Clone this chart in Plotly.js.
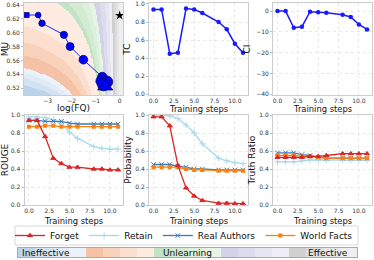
<!DOCTYPE html>
<html><head><meta charset="utf-8">
<script src="https://cdn.plot.ly/plotly-3.0.1.min.js"></script>
<style>html,body{margin:0;padding:0;background:#fff}#chart{width:374px;height:260px}</style>
</head><body><div id="chart"></div>
<script>
// ---------- data ----------
const steps = [0, 1, 2, 3, 4, 5, 6, 8, 9, 10, 11];
const logFQ = [-3.87, -3.39, -3.23, -2.32, -2.06, -1.51, -0.72, -0.76, -0.53, -0.66, -0.60];
const MU = [0.6256, 0.6256, 0.6137, 0.597, 0.580, 0.561, 0.536, 0.530, 0.529, 0.525, 0.522];
const TC = [0.94, 0.94, 0.45, 0.46, 0.95, 0.94, 0.90, 0.80, 0.72, 0.56, 0.46];
const CI = [0, 0, -8, -7.5, -0.3, -0.5, -0.8, -1.7, -2.8, -6.4, -8.8];
const idealX = [0];
const idealY = [0.625];

const seriesNames = ['Forget', 'Retain', 'Real Authors', 'World Facts'];
const rougeForget = [0.94, 0.94, 0.76, 0.52, 0.46, 0.42, 0.42, 0.40, 0.40, 0.39, 0.39];
const rougeRetain = [0.98, 0.98, 0.97, 0.95, 0.90, 0.81, 0.74, 0.65, 0.63, 0.62, 0.62];
const rougeReal   = [0.94, 0.94, 0.93, 0.93, 0.93, 0.91, 0.90, 0.90, 0.90, 0.90, 0.90];
const rougeWorld  = [0.87, 0.87, 0.88, 0.88, 0.87, 0.87, 0.87, 0.87, 0.87, 0.87, 0.87];
const probForget = [0.98, 0.98, 0.88, 0.44, 0.19, 0.10, 0.05, 0.02, 0.02, 0.015, 0.015];
const probRetain = [1.00, 1.00, 0.99, 0.96, 0.89, 0.80, 0.68, 0.52, 0.49, 0.47, 0.46];
const probReal   = [0.45, 0.45, 0.45, 0.43, 0.42, 0.40, 0.40, 0.39, 0.39, 0.39, 0.39];
const probWorld  = [0.42, 0.42, 0.42, 0.42, 0.40, 0.39, 0.39, 0.38, 0.38, 0.38, 0.38];
const trForget = [0.53, 0.53, 0.53, 0.53, 0.54, 0.54, 0.55, 0.57, 0.57, 0.57, 0.57];
const trRetain = [0.48, 0.48, 0.48, 0.49, 0.50, 0.50, 0.50, 0.50, 0.50, 0.50, 0.50];
const trReal   = [0.58, 0.58, 0.58, 0.56, 0.55, 0.53, 0.52, 0.52, 0.52, 0.52, 0.52];
const trWorld  = [0.55, 0.55, 0.55, 0.54, 0.54, 0.53, 0.52, 0.52, 0.52, 0.52, 0.52];

const bandLabels = ['Ineffective', 'Unlearning', 'Effective'];
const bandLevels = [0,1,2,3,4,5,6,7,8,9,10,11,12,13,14,15,16,17,18,19];
// score thresholds separating the 20 background levels
const levelThresholds = [0.30,0.36,0.41,0.46, 0.58,0.70,0.85,1.20, 1.28,1.45,1.62,1.80, 2.10,2.60,3.40,4.57, 7,15,40];

// ---------- styles ----------
const levelColors = [
  '#bdd3ea','#d3e3f2','#e0ebf7','#ebf2fa',
  '#f6c2a5','#f9d2bc','#fcdfce','#feece2',
  '#c3e4c4','#d2ebd1','#dcf0db','#e6f5e5',
  '#d3d2e8','#dddcee','#e6e5f2','#efeef6',
  '#d0d0d0','#dddddd','#e6e6e6','#efefef'
];
const seriesColors = ['#d62728', '#a6d8ec', '#3a7cb9', '#ff7f0e'];
const seriesSymbols = ['triangle-up', 'cross-thin', 'x-thin', 'square'];

const W = 374, H = 260;
const dx = (a, b) => [a / W, b / W];
const dy = (t, b) => [1 - b / H, 1 - t / H];

const colorscale = [];
levelColors.forEach((c, i) => { colorscale.push([i / 20, c]); colorscale.push([(i + 1) / 20, c]); });

// background score landscape for the (log FQ, MU) plane
const gx = [], gy = [];
for (let i = 0; i < 170; i++) gx.push(-4.0 + i * 0.0245);
for (let j = 0; j < 100; j++) gy.push(0.509 + j * 0.00136);
const gz = gy.map(y => gx.map(x => {
  const s = Math.pow(Math.max(-x, 0.02), -1.15) + 6.51 * (y - 0.51);
  let lvl = 0;
  while (lvl < levelThresholds.length && s >= levelThresholds[lvl]) lvl++;
  return lvl;
}));

const font = 'DejaVu Sans, sans-serif';
const baseAxis = {
  showline: true, linecolor: '#cccccc', linewidth: 1, mirror: true,
  ticks: 'outside', ticklen: 2, tickcolor: '#aaaaaa', tickwidth: 0.8,
  tickfont: {size: 6, color: '#333', family: font},
  showgrid: true, gridcolor: '#e2e2e2', griddash: 'dot', gridwidth: 0.8,
  zeroline: false
};
const ax = (o) => Object.assign({}, baseAxis, o);
const ttl = (t, standoff) => ({text: t, font: {size: 9, color: '#111', family: font}, standoff: standoff});

const traces = [];
traces.push({type: 'heatmap', x: gx, y: gy, z: gz, colorscale: colorscale, zmin: -0.5, zmax: 19.5,
  showscale: false, hoverinfo: 'skip', xaxis: 'x', yaxis: 'y'});
traces.push({type: 'scatter', mode: 'lines+markers', x: logFQ, y: MU, xaxis: 'x', yaxis: 'y', showlegend: false,
  opacity: 1, line: {color: '#1a2aff', width: 1},
  marker: {color: '#0000ff', opacity: 1, size: steps.map(s => 5 + 0.75 * s),
    symbol: steps.map((s, i) => i === 0 ? 'square' : (i === steps.length - 1 ? 'triangle-up' : 'circle')),
    line: {color: '#000055', width: 0.7}}});
traces.push({type: 'scatter', mode: 'markers', x: idealX, y: idealY, xaxis: 'x', yaxis: 'y', showlegend: false,
  marker: {symbol: 'star', color: '#000', size: 7}});
traces.push({type: 'scatter', mode: 'lines+markers', x: steps, y: TC, xaxis: 'x2', yaxis: 'y2', showlegend: false,
  line: {color: '#1a1aff', width: 1.5}, marker: {color: '#1a1aff', size: 4.5}});
traces.push({type: 'scatter', mode: 'lines+markers', x: steps, y: CI, xaxis: 'x3', yaxis: 'y3', showlegend: false,
  line: {color: '#1a1aff', width: 1.5}, marker: {color: '#1a1aff', size: 4.5}});

const groups = [
  ['x4', 'y4', [rougeForget, rougeRetain, rougeReal, rougeWorld]],
  ['x5', 'y5', [probForget, probRetain, probReal, probWorld]],
  ['x6', 'y6', [trForget, trRetain, trReal, trWorld]]
];
const drawOrder = [1, 2, 3, 0];
groups.forEach((g, gi) => {
  drawOrder.forEach(k => {
    traces.push({type: 'scatter', mode: 'lines+markers', x: steps, y: g[2][k], xaxis: g[0], yaxis: g[1],
      name: seriesNames[k], legendgroup: seriesNames[k], showlegend: gi === 0, legendrank: k + 1,
      line: {color: seriesColors[k], width: 1.3},
      marker: {color: seriesColors[k], symbol: seriesSymbols[k], size: k === 3 ? 4 : 4.5,
        line: {color: seriesColors[k], width: k === 3 ? 0 : 1}}});
  });
});
traces.push({type: 'heatmap', x: bandLevels, y: [0], z: [bandLevels], colorscale: colorscale, zmin: -0.5, zmax: 19.5,
  showscale: false, hoverinfo: 'skip', xaxis: 'x7', yaxis: 'y7'});

const stepAxis = (dom, anchor) => ax({domain: dom, anchor: anchor, range: [-0.55, 11.55],
  tick0: 0, dtick: 2.5, tickformat: '.1f', ticks: ''});

const txt = (t, xp, yp, anchor, size) => ({text: t, xref: 'paper', yref: 'paper', x: xp / W, y: 1 - yp / H,
  xanchor: anchor, yanchor: 'middle', showarrow: false, font: {size: size, family: font, color: '#111'}});

const layout = {
  width: W, height: H, margin: {l: 0, r: 0, t: 0, b: 0},
  paper_bgcolor: '#fff', plot_bgcolor: '#fff',
  font: {family: font, color: '#111'},
  showlegend: true,
  legend: {orientation: 'h', x: 10 / W, y: 1 - 235.5 / H, xanchor: 'left', yanchor: 'middle',
    borderwidth: 0, font: {size: 9, family: font, color: '#111'},
    traceorder: 'normal', bgcolor: 'rgba(0,0,0,0)'},
  xaxis: ax({domain: dx(24, 123), anchor: 'y', range: [-3.98, 0.14], dtick: 1, tick0: 0, showgrid: false, ticks: ''}),
  yaxis: ax({domain: dy(3, 95), anchor: 'x', range: [0.510, 0.643], dtick: 0.02, tick0: 0.52, tickformat: '.2f', showgrid: false,
    title: ttl('MU', 2)}),
  xaxis2: stepAxis(dx(149, 247.5), 'y2'),
  yaxis2: ax({domain: dy(3, 95), anchor: 'x2', range: [-0.008, 1.011], dtick: 0.2, tickformat: '.1f', title: ttl('TC', 3)}),
  xaxis3: stepAxis(dx(273, 371.5), 'y3'),
  yaxis3: ax({domain: dy(3, 95), anchor: 'x3', range: [-40.3, 3.9], dtick: 10, title: ttl('CI', 3)}),
  xaxis4: stepAxis(dx(24.5, 122.5), 'y4'),
  yaxis4: ax({domain: dy(115, 205), anchor: 'x4', range: [0, 1], dtick: 0.2, tickformat: '.1f', title: ttl('ROUGE', 2)}),
  xaxis5: stepAxis(dx(149, 247.5), 'y5'),
  yaxis5: ax({domain: dy(115, 205), anchor: 'x5', range: [0, 1], dtick: 0.2, tickformat: '.1f', title: ttl('Probability', 2)}),
  xaxis6: stepAxis(dx(273, 371.5), 'y6'),
  yaxis6: ax({domain: dy(115, 205), anchor: 'x6', range: [0, 1], dtick: 0.2, tickformat: '.1f', title: ttl('Truth Ratio', 2)}),
  xaxis7: {domain: dx(18, 357), anchor: 'y7', range: [-0.5, 19.5], showticklabels: false, ticks: '', showgrid: false,
    zeroline: false, showline: true, mirror: true, linecolor: '#aaaaaa', linewidth: 1},
  yaxis7: {domain: dy(248, 257), anchor: 'x7', range: [-0.5, 0.5], showticklabels: false, ticks: '', showgrid: false,
    zeroline: false, showline: true, mirror: true, linecolor: '#aaaaaa', linewidth: 1},
  shapes: [
    {type: 'rect', xref: 'paper', yref: 'paper', x0: 15 / W, x1: 358 / W, y0: 1 - 245 / H, y1: 1 - 226 / H,
      line: {color: '#d8d8d8', width: 1}, fillcolor: 'rgba(0,0,0,0)', layer: 'below'}
  ],
  annotations: [
    txt('log(FQ)', 73.5, 108, 'center', 9),
    txt('Training steps', 198, 109, 'center', 8.4),
    txt('Training steps', 322, 109, 'center', 8.4),
    txt('Training steps', 73.5, 220.5, 'center', 8.4),
    txt('Training steps', 198, 220.5, 'center', 8.4),
    txt('Training steps', 322, 220.5, 'center', 8.4),
    txt(bandLabels[0], 20, 252.5, 'left', 9),
    txt(bandLabels[1], 187, 252.5, 'center', 9),
    txt(bandLabels[2], 350, 252.5, 'right', 9)
  ]
};

Plotly.newPlot('chart', traces, layout, {staticPlot: true, displayModeBar: false});
</script>
</body></html>
